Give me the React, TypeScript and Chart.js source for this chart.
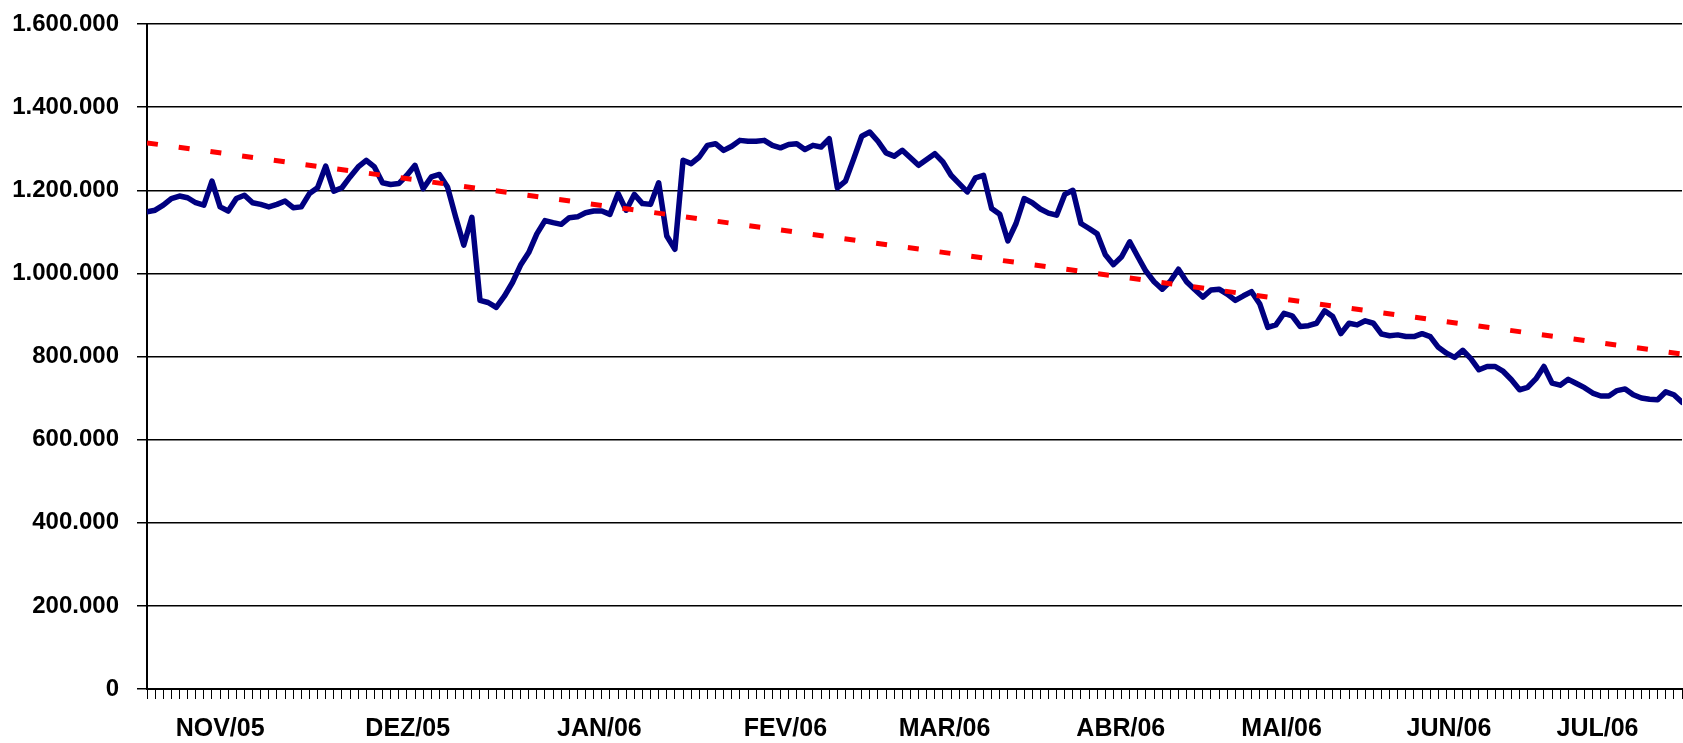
import React, { useEffect, useRef } from 'react';
import { Chart, registerables } from 'chart.js';

Chart.register(...registerables);

// Daily values (one per trading day)
const values: number[] = [
  1148000, 1152000, 1164000, 1180000, 1186000, 1182000, 1170000, 1164000, 1222000, 1160000,
  1150000, 1180000, 1188000, 1170000, 1166000, 1160000, 1166000, 1174000, 1158000, 1160000,
  1192000, 1206000, 1258000, 1198000, 1206000, 1232000, 1256000, 1272000, 1256000, 1218000,
  1214000, 1216000, 1236000, 1260000, 1204000, 1232000, 1238000, 1208000, 1136000, 1068000,
  1135000, 935000, 930000, 918000, 945000, 978000, 1020000, 1050000, 1095000, 1127000,
  1122000, 1118000, 1134000, 1136000, 1146000, 1150000, 1150000, 1142000, 1192000, 1152000,
  1190000, 1168000, 1166000, 1218000, 1090000, 1058000, 1272000, 1264000, 1280000, 1308000,
  1312000, 1296000, 1306000, 1320000, 1318000, 1318000, 1320000, 1308000, 1302000, 1310000,
  1312000, 1298000, 1308000, 1304000, 1324000, 1206000, 1222000, 1275000, 1330000, 1340000,
  1318000, 1290000, 1282000, 1296000, 1278000, 1260000, 1274000, 1288000, 1268000, 1236000,
  1216000, 1196000, 1230000, 1236000, 1156000, 1142000, 1078000, 1120000, 1180000, 1170000,
  1155000, 1145000, 1140000, 1190000, 1200000, 1120000, 1108000, 1095000, 1045000, 1021000,
  1040000, 1076000, 1040000, 1005000, 980000, 962000, 981000, 1010000, 980000, 961000,
  943000, 960000, 962000, 950000, 935000, 946000, 956000, 927000, 870000, 876000,
  904000, 898000, 872000, 874000, 880000, 910000, 896000, 855000, 880000, 876000,
  886000, 880000, 854000, 850000, 852000, 848000, 848000, 855000, 848000, 822000,
  808000, 798000, 815000, 795000, 768000, 776000, 776000, 764000, 744000, 720000,
  726000, 746000, 776000, 736000, 731000, 745000, 735000, 725000, 712000, 705000,
  705000, 718000, 722000, 708000, 700000, 697000, 696000, 715000, 708000, 690000,
];

// Linear trend line end values
const trendStart = 1314000;
const trendEnd = 806000;

// Month labels and their positions on the day axis
const monthLabels: string[] = ['NOV/05', 'DEZ/05', 'JAN/06', 'FEV/06', 'MAR/06', 'ABR/06', 'MAI/06', 'JUN/06', 'JUL/06'];
const monthLabelPos: number[] = [9.0, 32.1, 55.7, 78.6, 98.2, 119.9, 139.7, 160.3, 178.6];

const yTicks: number[] = [0, 200000, 400000, 600000, 800000, 1000000, 1200000, 1400000, 1600000];

const FONT = "'Liberation Sans', Arial, Helvetica, sans-serif";

function fmt(v: number): string {
  return String(Math.round(v)).replace(/\B(?=(\d{3})+(?!\d))/g, '.');
}

export default function App() {
  const ref = useRef<HTMLCanvasElement | null>(null);

  useEffect(() => {
    if (!ref.current) return;
    const last = values.length - 1;
    const chart = new Chart(ref.current, {
      type: 'line',
      data: {
        datasets: [
          {
            data: [
              { x: 0, y: trendStart },
              { x: last, y: trendEnd },
            ],
            borderColor: '#FF0000',
            borderWidth: 5,
            borderDash: [11, 21],
            borderCapStyle: 'butt',
            pointRadius: 0,
            xAxisID: 'x',
            yAxisID: 'y',
          },
          {
            data: values.map((v, i) => ({ x: i, y: v })),
            borderColor: '#000080',
            borderWidth: 5.5,
            borderJoinStyle: 'round',
            borderCapStyle: 'round',
            pointRadius: 0,
            tension: 0,
            xAxisID: 'x',
            yAxisID: 'y',
          },
        ],
      },
      options: {
        responsive: false,
        animation: false,
        events: [],
        layout: { padding: { top: 24, right: 1, left: 0, bottom: 0 } },
        plugins: {
          legend: { display: false },
          tooltip: { enabled: false },
        },
        scales: {
          x: {
            type: 'linear',
            position: 'bottom',
            min: 0,
            max: last,
            afterBuildTicks: (s: any) => {
              s.ticks = values.map((_, i) => ({ value: i }));
            },
            ticks: { display: false, autoSkip: false },
            grid: {
              drawOnChartArea: false,
              drawTicks: true,
              tickLength: 10,
              color: '#000',
              lineWidth: 1,
            },
            border: { display: true, color: '#000', width: 2 },
            afterFit: (s: any) => {
              s.height = 10;
            },
          },
          x2: {
            type: 'linear',
            position: 'bottom',
            min: 0,
            max: last,
            afterBuildTicks: (s: any) => {
              s.ticks = monthLabelPos.map((p) => ({ value: p }));
            },
            ticks: {
              autoSkip: false,
              maxRotation: 0,
              padding: 15,
              color: '#000',
              font: { family: FONT, size: 25, weight: 'bold' },
              callback: (_v: any, idx: number) => monthLabels[idx],
            },
            grid: { display: false, drawTicks: false },
            border: { display: false },
            afterFit: (s: any) => {
              s.height = 44;
            },
          },
          y: {
            min: 0,
            max: 1600000,
            afterBuildTicks: (s: any) => {
              s.ticks = yTicks.map((v) => ({ value: v }));
            },
            ticks: {
              padding: 18,
              color: '#000',
              font: { family: FONT, size: 24, weight: 'bold' },
              callback: (v: any) => fmt(Number(v)),
            },
            grid: {
              color: '#000',
              lineWidth: 1.5,
              drawTicks: true,
              tickLength: 10,
            },
            border: { display: true, color: '#000', width: 2 },
            afterFit: (s: any) => {
              s.width = 147;
              s.paddingTop = 0;
              s.paddingBottom = 0;
            },
          },
        },
      },
    } as any);
    return () => chart.destroy();
  }, []);

  return (
    <div style={{ position: 'absolute', left: 0, top: 0, width: 1683, height: 743, background: '#fff' }}>
      <canvas ref={ref} width={1683} height={743} style={{ display: 'block' }} />
    </div>
  );
}
